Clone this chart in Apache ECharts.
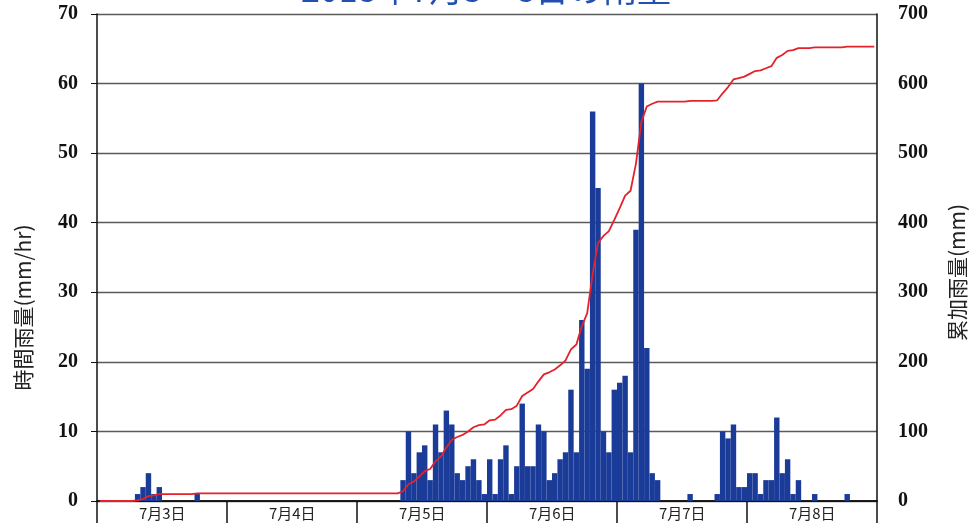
<!DOCTYPE html>
<html>
<head>
    <meta charset="utf-8">
    <title>雨量</title>
    <script src="https://cdn.jsdelivr.net/npm/echarts@6/dist/echarts.min.js"></script>
</head>
<body style="margin:0;background:#fff;">
    <div id="main" style="width: 972px;height:526px;"></div>
    <script type="text/javascript">
    // 日付ラベル（1日 = 24時間）
    var days = ['7月3日', '7月4日', '7月5日', '7月6日', '7月7日', '7月8日'];

    // 時間雨量 (mm/hr)、7月3日0時から1時間ごと
    var hourly = [
        // 7/3
        0, 0, 0, 0, 0, 0, 0, 1, 2, 4, 1, 2, 0, 0, 0, 0, 0, 0, 1, 0, 0, 0, 0, 0,
        // 7/4
        0, 0, 0, 0, 0, 0, 0, 0, 0, 0, 0, 0, 0, 0, 0, 0, 0, 0, 0, 0, 0, 0, 0, 0,
        // 7/5
        0, 0, 0, 0, 0, 0, 0, 0, 3, 10, 4, 7, 8, 3, 11, 7, 13, 11, 4, 3, 5, 6, 3, 1,
        // 7/6
        6, 1, 6, 8, 1, 5, 14, 5, 5, 11, 10, 3, 4, 6, 7, 16, 7, 26, 19, 56, 45, 10, 7, 16,
        // 7/7
        17, 18, 7, 39, 60, 22, 4, 3, 0, 0, 0, 0, 0, 1, 0, 0, 0, 0, 1, 10, 9, 11, 2, 2,
        // 7/8
        4, 4, 1, 3, 3, 12, 4, 6, 1, 3, 0, 0, 1, 0, 0, 0, 0, 0, 1, 0, 0, 0, 0, 0
    ];

    // 累加雨量 (mm)、赤線から読み取り
    var cumulative = [
        // 7/3
        0, 0, 0, 0, 0, 0, 0, 1, 3, 7, 8, 10, 10, 10, 10, 10, 10, 10, 11, 11, 11, 11, 11, 11,
        // 7/4
        11, 11, 11, 11, 11, 11, 11, 11, 11, 11, 11, 11, 11, 11, 11, 11, 11, 11, 11, 11, 11, 11, 11, 11,
        // 7/5
        11, 11, 11, 11, 11, 11, 11, 11, 14, 24, 28, 35, 43, 46, 57, 64, 77, 88, 92, 95, 100, 106, 109, 110,
        // 7/6
        116, 117, 123, 131, 132, 137, 151, 156, 161, 172, 182, 185, 189, 195, 202, 218, 225, 251, 270, 326, 371, 381, 388, 404,
        // 7/7
        421, 439, 446, 485, 545, 567, 571, 574, 574, 574, 574, 574, 574, 575, 575, 575, 575, 575, 576, 586, 595, 606, 608, 610,
        // 7/8
        614, 618, 619, 622, 625, 637, 641, 647, 648, 651, 651, 651, 652, 652, 652, 652, 652, 652, 653, 653, 653, 653, 653, 653
    ];

    var hours = [];
    for (var d = 0; d < days.length; d++) {
        for (var h = 0; h < 24; h++) {
            hours.push(days[d] + ' ' + h + '時');
        }
    }

    var myChart = echarts.init(document.getElementById('main'));

    var numStyle = {
        fontFamily: 'Liberation Serif',
        fontWeight: 'bold',
        fontSize: 20,
        color: '#111'
    };

    myChart.setOption({
        animation: false,
        title: {
            text: '2018年7月3～8日の雨量',
            left: 'center',
            top: -33,
            textStyle: {
                fontFamily: 'Noto Sans CJK JP',
                fontWeight: 'normal',
                fontSize: 34,
                color: '#2350b0'
            }
        },
        grid: {
            left: 97,
            right: 95,
            top: 14,
            bottom: 25,
            outerBoundsMode: 'none',
            containLabel: false
        },
        xAxis: [{
            type: 'category',
            data: hours,
            boundaryGap: true,
            axisLine: {
                lineStyle: { color: '#111', width: 1.5 }
            },
            axisTick: {
                show: true,
                interval: function (idx) { return idx % 24 === 0; },
                length: 22,
                lineStyle: { color: '#111', width: 1.5 }
            },
            axisLabel: {
                interval: function (idx) { return idx % 24 === 12; },
                formatter: function (v, idx) { return days[Math.floor(idx / 24)]; },
                margin: 5,
                padding: [0, 5, 0, 0],
                fontFamily: 'Noto Sans CJK JP',
                fontSize: 15,
                color: '#222'
            },
            splitLine: { show: false }
        }, {
            type: 'category',
            data: hours,
            position: 'bottom',
            offset: 22,
            axisLine: {
                lineStyle: { color: '#111', width: 1.5 }
            },
            axisTick: { show: false },
            axisLabel: { show: false }
        }],
        yAxis: [{
            type: 'value',
            min: 0,
            max: 70,
            interval: 10,
            name: '時間雨量(mm/hr)',
            nameLocation: 'middle',
            nameRotate: 90,
            nameGap: 63,
            nameTextStyle: {
                fontFamily: 'Noto Sans CJK JP',
                fontSize: 21,
                color: '#222',
                padding: [0, 100, 0, 0]
            },
            axisLine: {
                show: true,
                lineStyle: { color: '#111', width: 1.5 }
            },
            axisTick: {
                show: true,
                length: 6,
                lineStyle: { color: '#111' }
            },
            axisLabel: Object.assign({ margin: 19 }, numStyle),
            splitLine: {
                show: true,
                lineStyle: { color: '#5a5a5a', width: 1.3 }
            }
        }, {
            type: 'value',
            min: 0,
            max: 700,
            interval: 100,
            position: 'right',
            name: '累加雨量(mm)',
            nameLocation: 'middle',
            nameRotate: 90,
            nameGap: 70,
            nameTextStyle: {
                fontFamily: 'Noto Sans CJK JP',
                fontSize: 21,
                color: '#222',
                padding: [0, 30, 0, 0]
            },
            axisLine: {
                show: true,
                lineStyle: { color: '#111', width: 1.5 }
            },
            axisTick: { show: false },
            axisLabel: Object.assign({ margin: 21 }, numStyle),
            splitLine: { show: false }
        }],
        series: [{
            name: '時間雨量',
            type: 'bar',
            xAxisIndex: 0,
            yAxisIndex: 0,
            barCategoryGap: '0%',
            itemStyle: { color: '#1b3b98' },
            data: hourly
        }, {
            name: '累加雨量',
            type: 'line',
            xAxisIndex: 0,
            yAxisIndex: 1,
            showSymbol: false,
            symbol: 'none',
            lineStyle: { color: '#e3222c', width: 1.8 },
            z: 3,
            data: cumulative
        }]
    });
    </script>
</body>
</html>
